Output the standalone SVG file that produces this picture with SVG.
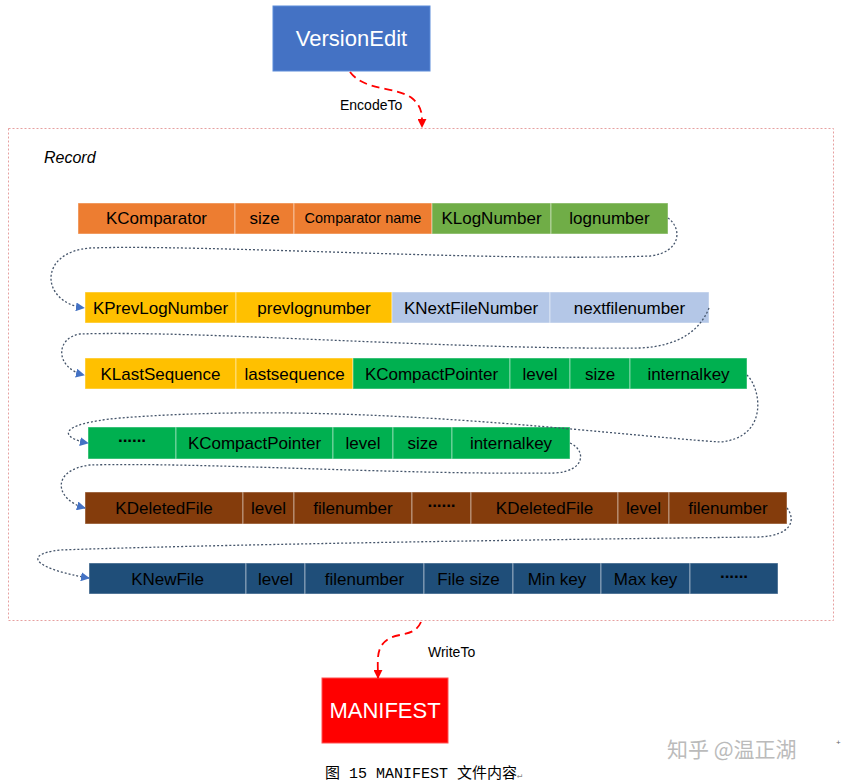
<svg xmlns="http://www.w3.org/2000/svg" width="842" height="783" viewBox="0 0 842 783">
<style>
.t{font-family:"Liberation Sans",Arial,sans-serif;font-size:17px;text-anchor:middle;fill:#000}
.s{font-size:14.5px}
.d{font-weight:bold;letter-spacing:-1px}
.c{stroke:#ffffff;stroke-opacity:0.45;stroke-width:1}
.conn{fill:none;stroke:#44546A;stroke-width:1.3;stroke-dasharray:2,2}
.red{fill:none;stroke:#FF0000;stroke-width:1.8;stroke-dasharray:8,5}
.lbl{font-family:"Liberation Sans",Arial,sans-serif;font-size:14px;fill:#000}
</style>
<defs>
<marker id="ab" viewBox="0 0 10 10" refX="9" refY="5" markerWidth="9" markerHeight="9" markerUnits="userSpaceOnUse" orient="auto"><path d="M0,0L10,5L0,10z" fill="#4472C4"/></marker>
<marker id="ar" viewBox="0 0 10 10" refX="9" refY="5" markerWidth="9" markerHeight="9" markerUnits="userSpaceOnUse" orient="auto"><path d="M0,0L10,5L0,10z" fill="#FF0000"/></marker>
</defs>
<rect width="842" height="783" fill="#fff"/>
<rect x="8.5" y="128.5" width="825" height="492" fill="none" stroke="#E6A0A0" stroke-width="1" stroke-dasharray="2,2"/>
<text x="44" y="163" font-family="'Liberation Sans',Arial,sans-serif" font-size="16" font-style="italic">Record</text>

<g id="versionedit"><rect x="273" y="6" width="157" height="65" fill="#4472C4" stroke="#5B8BD9"/><text class="t" x="351.5" y="46" style="font-size:22px;fill:#fff">VersionEdit</text></g>
<g id="manifest"><rect x="322" y="678" width="126" height="65" fill="#FF0000" stroke="#FF5050"/><text class="t" x="385" y="718" style="font-size:22px;fill:#fff">MANIFEST</text></g>

<g id="row1" fill="#ED7D31">
<rect class="c" x="78" y="203" width="157" height="31"/><text class="t" x="156.5" y="224">KComparator</text>
<rect class="c" x="235" y="203" width="59" height="31"/><text class="t" x="264.5" y="224">size</text>
<rect class="c" x="294" y="203" width="138" height="31"/><text class="t s" x="363" y="223">Comparator name</text>
<rect class="c" x="432" y="203" width="119" height="31" fill="#70AD47"/><text class="t" x="491.5" y="224">KLogNumber</text>
<rect class="c" x="551" y="203" width="117" height="31" fill="#70AD47"/><text class="t" x="609.5" y="224">lognumber</text>
</g>
<g id="row2" fill="#FFC000">
<rect class="c" x="85" y="292" width="151" height="31"/><text class="t" x="160.5" y="314">KPrevLogNumber</text>
<rect class="c" x="236" y="292" width="156" height="31"/><text class="t" x="314" y="314">prevlognumber</text>
<rect class="c" x="392" y="292" width="158" height="31" fill="#B4C7E7"/><text class="t" x="471" y="314">KNextFileNumber</text>
<rect class="c" x="550" y="292" width="159" height="31" fill="#B4C7E7"/><text class="t" x="629.5" y="314">nextfilenumber</text>
</g>
<g id="row3" fill="#FFC000">
<rect class="c" x="85" y="358" width="151" height="31"/><text class="t" x="160.5" y="380">KLastSequence</text>
<rect class="c" x="236" y="358" width="117" height="31"/><text class="t" x="294.5" y="380">lastsequence</text>
<rect class="c" x="353" y="358" width="157" height="31" fill="#00B050"/><text class="t" x="431.5" y="380">KCompactPointer</text>
<rect class="c" x="510" y="358" width="60" height="31" fill="#00B050"/><text class="t" x="540" y="380">level</text>
<rect class="c" x="570" y="358" width="60" height="31" fill="#00B050"/><text class="t" x="600" y="380">size</text>
<rect class="c" x="630" y="358" width="117" height="31" fill="#00B050"/><text class="t" x="688.5" y="380">internalkey</text>
</g>
<g id="row4" fill="#00B050">
<rect class="c" x="88" y="427" width="88" height="32"/><text class="t d" x="132" y="446">······</text>
<rect class="c" x="176" y="427" width="157" height="32"/><text class="t" x="254.5" y="449">KCompactPointer</text>
<rect class="c" x="333" y="427" width="60" height="32"/><text class="t" x="363" y="449">level</text>
<rect class="c" x="393" y="427" width="59" height="32"/><text class="t" x="422.5" y="449">size</text>
<rect class="c" x="452" y="427" width="118" height="32"/><text class="t" x="511" y="449">internalkey</text>
</g>
<g id="row5" fill="#843C0C">
<rect class="c" x="85" y="492" width="158" height="32"/><text class="t" x="164" y="514">KDeletedFile</text>
<rect class="c" x="243" y="492" width="51" height="32"/><text class="t" x="268.5" y="514">level</text>
<rect class="c" x="294" y="492" width="118" height="32"/><text class="t" x="353" y="514">filenumber</text>
<rect class="c" x="412" y="492" width="59" height="32"/><text class="t d" x="441.5" y="511">······</text>
<rect class="c" x="471" y="492" width="147" height="32"/><text class="t" x="544.5" y="514">KDeletedFile</text>
<rect class="c" x="618" y="492" width="51" height="32"/><text class="t" x="643.5" y="514">level</text>
<rect class="c" x="669" y="492" width="118" height="32"/><text class="t" x="728" y="514">filenumber</text>
</g>
<g id="row6" fill="#1F4E79">
<rect class="c" x="89" y="563" width="157" height="31"/><text class="t" x="167.5" y="585">KNewFile</text>
<rect class="c" x="246" y="563" width="59" height="31"/><text class="t" x="275.5" y="585">level</text>
<rect class="c" x="305" y="563" width="119" height="31"/><text class="t" x="364.5" y="585">filenumber</text>
<rect class="c" x="424" y="563" width="89" height="31"/><text class="t" x="468.5" y="585">File size</text>
<rect class="c" x="513" y="563" width="88" height="31"/><text class="t" x="557" y="585">Min key</text>
<rect class="c" x="601" y="563" width="89" height="31"/><text class="t" x="645.5" y="585">Max key</text>
<rect class="c" x="690" y="563" width="88" height="31"/><text class="t d" x="734" y="582">······</text>
</g>

<g id="connectors">
<path class="conn" marker-end="url(#ab)" d="M668,218 C682,228 682,252 650,256 C500,262 200,244 90,248 C38,252 40,302 84,308"/>
<path class="conn" marker-end="url(#ab)" d="M709,308 C700,330 680,346 640,348 C450,350 200,330 80,334 C55,338 55,368 84,375"/>
<path class="conn" marker-end="url(#ab)" d="M747,375 C762,390 768,438 720,442 C600,434 350,400 120,418 C55,424 60,438 88,443"/>
<path class="conn" marker-end="url(#ab)" d="M570,443 C586,450 586,471 555,473 C400,475 200,462 90,465 C50,470 55,500 85,508"/>
<path class="conn" marker-end="url(#ab)" d="M787,508 C796,520 792,535 760,537 C500,540 200,545 60,550 C18,555 40,570 89,578"/>
<path class="red" marker-end="url(#ar)" d="M350,72 C365,92 398,86 413,99 C423,108 422,116 422,127"/>
<path class="red" marker-end="url(#ar)" d="M421,622 C415,636 400,633 390,638 C375,646 378,660 378,678"/>
</g>
<text class="lbl" x="340" y="110">EncodeTo</text>
<text class="lbl" x="428" y="657">WriteTo</text>

<text x="325" y="778" font-family="'Liberation Mono','Noto Sans CJK SC',monospace" font-size="15">图 15 MANIFEST 文件内容<tspan font-size="9" fill="#888">↵</tspan></text>
<text x="667" y="757" font-family="'Noto Sans CJK SC',sans-serif" font-size="21" fill="#BBBBBB">知乎 @温正湖</text>
<text x="836" y="745" font-family="'Liberation Sans',sans-serif" font-size="8" fill="#666">+</text>
</svg>
